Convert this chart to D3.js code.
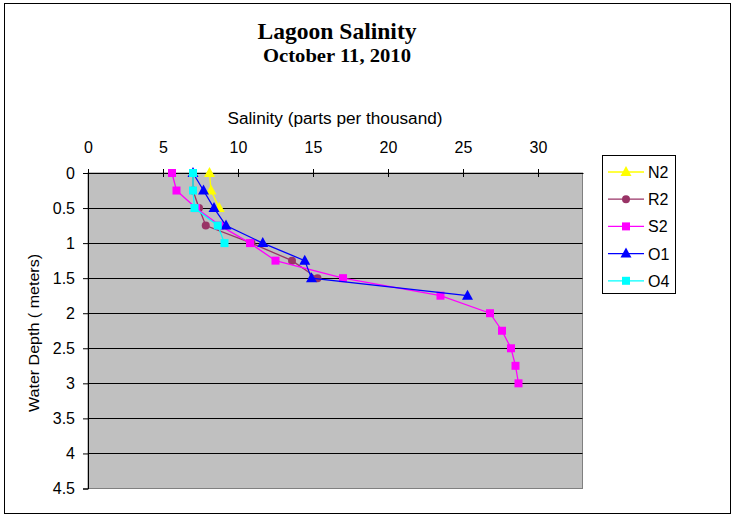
<!DOCTYPE html>
<html><head><meta charset="utf-8">
<script src="https://cdn.jsdelivr.net/npm/d3@7"></script>
<style>body{margin:0;background:#fff}svg{display:block}</style>
</head><body><svg id="c" width="735" height="516"></svg>
<script>
const seriesNames = ["N2","R2","S2","O1","O4"];
const colors = ["#FFFF00","#993366","#FF00FF","#0000FF","#00FFFF"];
const symbols = ["triangle","circle","square","triangle","square"];
const depthN2 = [0, 0.25, 0.5];
const salN2 = [8.1, 8.2, 8.75];
const depthR2 = [0, 0.25, 0.5, 0.75, 1.0, 1.25, 1.5];
const salR2 = [7.0, 7.0, 7.4, 7.85, 10.9, 13.6, 15.3];
const depthS2 = [0, 0.25, 0.5, 0.75, 1.0, 1.25, 1.5, 1.75, 2.0, 2.25, 2.5, 2.75, 3.0];
const salS2 = [5.6, 5.9, 7.2, 8.8, 10.8, 12.5, 17.0, 23.5, 26.8, 27.6, 28.2, 28.5, 28.7];
const depthO1 = [0, 0.25, 0.5, 0.75, 1.0, 1.25, 1.5, 1.75];
const salO1 = [7.0, 7.7, 8.4, 9.2, 11.65, 14.45, 14.9, 25.3];
const depthO4 = [0, 0.25, 0.5, 0.75, 1.0];
const salO4 = [7.0, 7.0, 7.1, 8.65, 9.1];
const xTicks = [0,5,10,15,20,25,30];
const yTicks = [0,0.5,1,1.5,2,2.5,3,3.5,4,4.5];

const data = [
  {name:"N2", d:depthN2, s:salN2},
  {name:"R2", d:depthR2, s:salR2},
  {name:"S2", d:depthS2, s:salS2},
  {name:"O1", d:depthO1, s:salO1},
  {name:"O4", d:depthO4, s:salO4}
];
const SANS = "Arial, Liberation Sans, sans-serif";
const SERIF = "Liberation Serif, Times New Roman, serif";

const svg = d3.select("#c");
svg.append("rect").attr("x",4.5).attr("y",3.5).attr("width",726).attr("height",510)
  .attr("fill","#fff").attr("stroke","#000").attr("stroke-width",1);

const L=88, R=582.5, T=173, B=488.5;
const x = d3.scaleLinear().domain([0,33]).range([L,L+15*33]);
const y = d3.scaleLinear().domain([0,4.5]).range([T,B]);

svg.append("rect").attr("x",L).attr("y",T).attr("width",R-L).attr("height",B-T)
  .attr("fill","#C0C0C0").attr("stroke","#808080").attr("stroke-width",1);

svg.append("g").selectAll("line").data(yTicks.filter(t=>t>0&&t<4.5)).join("line")
  .attr("x1",L).attr("x2",R).attr("y1",d=>Math.round(y(d))+0.5).attr("y2",d=>Math.round(y(d))+0.5)
  .attr("stroke","#000").attr("stroke-width",1);

const xAxis = d3.axisTop(x).tickValues(xTicks).tickSize(0).tickPadding(20);
const gx = svg.append("g").attr("transform",`translate(0,${T})`).call(xAxis);
gx.select(".domain").attr("stroke","#000");
gx.selectAll("text").attr("font-family",SANS).attr("font-size",16).attr("fill","#000");
svg.append("g").selectAll("line").data(xTicks).join("line")
  .attr("x1",d=>Math.round(x(d))+0.5).attr("x2",d=>Math.round(x(d))+0.5)
  .attr("y1",T-4).attr("y2",T+4).attr("stroke","#000");

const yAxis = d3.axisLeft(y).tickValues(yTicks).tickSize(5).tickPadding(8).tickFormat(d3.format("~g"));
const gy = svg.append("g").attr("transform",`translate(${L},0)`).call(yAxis);
gy.select(".domain").attr("stroke","#000");
gy.selectAll("text").attr("font-family",SANS).attr("font-size",16).attr("fill","#000");

svg.append("text").attr("x",335).attr("y",124).attr("text-anchor","middle")
  .attr("font-family",SANS).attr("font-size",16)
  .attr("textLength",215).attr("lengthAdjust","spacingAndGlyphs").text("Salinity (parts per thousand)");
svg.append("text").attr("transform","translate(39,333) rotate(-90)").attr("text-anchor","middle")
  .attr("font-family",SANS).attr("font-size",15)
  .attr("textLength",158).attr("lengthAdjust","spacingAndGlyphs").text("Water Depth ( meters)");

svg.append("text").attr("x",337).attr("y",39).attr("text-anchor","middle")
  .attr("font-family",SERIF).attr("font-weight","bold").attr("font-size",24)
  .attr("textLength",159).attr("lengthAdjust","spacingAndGlyphs").text("Lagoon Salinity");
svg.append("text").attr("x",337).attr("y",62).attr("text-anchor","middle")
  .attr("font-family",SERIF).attr("font-weight","bold").attr("font-size",18)
  .attr("textLength",148).attr("lengthAdjust","spacingAndGlyphs").text("October 11, 2010");

function marker(g, type, color, cx, cy){
  if(type==="triangle"){
    g.append("path").attr("d",`M${cx},${cy-6}L${cx+5.5},${cy+4}L${cx-5.5},${cy+4}Z`).attr("fill",color);
  } else if(type==="circle"){
    g.append("circle").attr("cx",cx).attr("cy",cy).attr("r",4).attr("fill",color);
  } else {
    g.append("rect").attr("x",cx-4).attr("y",cy-4).attr("width",8).attr("height",8).attr("fill",color);
  }
}

const line = d3.line().x(p=>x(p[0])).y(p=>y(p[1]));
data.forEach((sr,i)=>{
  const pts = sr.s.map((v,j)=>[v, sr.d[j]]);
  const g = svg.append("g");
  g.append("path").attr("d",line(pts)).attr("fill","none").attr("stroke",colors[i]).attr("stroke-width",1.3);
  pts.forEach(p=>marker(g, symbols[i], colors[i], x(p[0]), y(p[1])));
});

const lg = svg.append("g");
lg.append("rect").attr("x",602.5).attr("y",155.5).attr("width",73).attr("height",138)
  .attr("fill","#fff").attr("stroke","#000");
seriesNames.forEach((n,i)=>{
  const yy = 172 + i*27.2;
  lg.append("line").attr("x1",608).attr("x2",644).attr("y1",yy).attr("y2",yy).attr("stroke",colors[i]).attr("stroke-width",1.3);
  marker(lg, symbols[i], colors[i], 626, yy);
  lg.append("text").attr("x",648).attr("y",yy+6).attr("font-family",SANS).attr("font-size",16).text(n);
});
</script></body></html>
